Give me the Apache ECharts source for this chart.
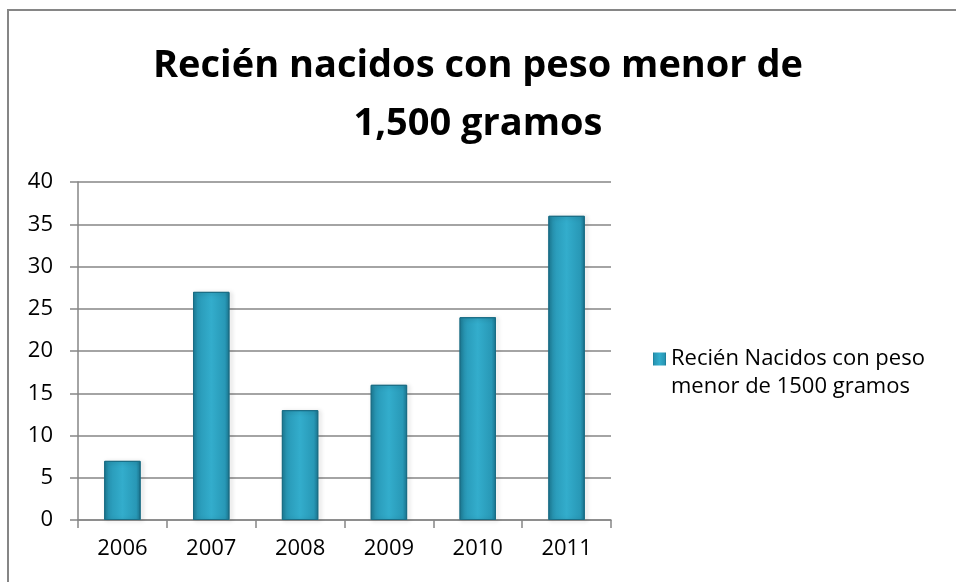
<!DOCTYPE html>
<html>
<head>
<meta charset="utf-8">
<script src="https://cdn.jsdelivr.net/npm/echarts@6/dist/echarts.min.js"></script>
<style>
  html, body { margin: 0; padding: 0; background: #fff; }
  #main { width: 956px; height: 582px; }
</style>
</head>
<body>
<div id="main"></div>
<script>
var years = ['2006', '2007', '2008', '2009', '2010', '2011'];
var values = [7, 27, 13, 16, 24, 36];
var seriesName = 'Recién Nacidos con peso\nmenor de 1500 gramos';
var titleText = 'Recién nacidos con peso menor de\n1,500 gramos';

var chart = echarts.init(document.getElementById('main'));

// cylinder-ish look like the Excel original
var barColor = new echarts.graphic.LinearGradient(0, 0, 1, 0, [
  { offset: 0, color: '#1c7c96' },
  { offset: 0.12, color: '#2898b6' },
  { offset: 0.5, color: '#33adcc' },
  { offset: 0.88, color: '#2898b6' },
  { offset: 1, color: '#1b7590' }
]);

var option = {
  backgroundColor: '#fff',
  textStyle: { fontFamily: 'Open Sans' },
  graphic: [{
    type: 'rect',
    shape: { x: 8, y: 10, width: 1000, height: 1000 },
    style: { fill: 'none', stroke: '#868686', lineWidth: 2 },
    silent: true
  }],
  title: {
    text: titleText,
    left: 'center',
    top: 32,
    textStyle: {
      fontFamily: 'Open Sans',
      fontWeight: 'bold',
      fontSize: 38,
      lineHeight: 58,
      color: '#000'
    }
  },
  legend: {
    left: 648,
    top: 340,
    orient: 'vertical',
    itemWidth: 13,
    itemHeight: 41,
    // square sits at the top so it lines up with the first text line
    icon: 'path://M0,0L10,0L10,10L0,10Z M0,31.5L10,31.5',
    itemStyle: { borderWidth: 0 },
    textStyle: { fontSize: 22, lineHeight: 28, color: '#000', fontFamily: 'Open Sans' },
    data: [seriesName]
  },
  grid: { left: 78, right: 345, top: 182, bottom: 62 },
  xAxis: {
    type: 'category',
    data: years,
    axisLine: { lineStyle: { color: '#868686', width: 1.5 } },
    axisTick: { show: true, length: 8, lineStyle: { color: '#868686', width: 1.5 } },
    axisLabel: { fontSize: 22, color: '#000', margin: 18 }
  },
  yAxis: {
    type: 'value',
    min: 0,
    max: 40,
    interval: 5,
    axisLine: { show: true, lineStyle: { color: '#868686', width: 1.5 } },
    axisTick: { show: true, length: 8, lineStyle: { color: '#868686', width: 1.5 } },
    splitLine: { lineStyle: { color: '#868686', width: 1.5 } },
    axisLabel: { fontSize: 22, color: '#000', margin: 25 }
  },
  series: [{
    name: seriesName,
    type: 'bar',
    data: values,
    barWidth: '41%',
    itemStyle: {
      color: barColor,
      borderColor: '#1a6d85',
      borderWidth: 1,
      shadowColor: 'rgba(0,0,0,0.25)',
      shadowBlur: 4,
      shadowOffsetX: 2,
      shadowOffsetY: 1
    }
  }]
};

chart.setOption(option);
</script>
</body>
</html>
